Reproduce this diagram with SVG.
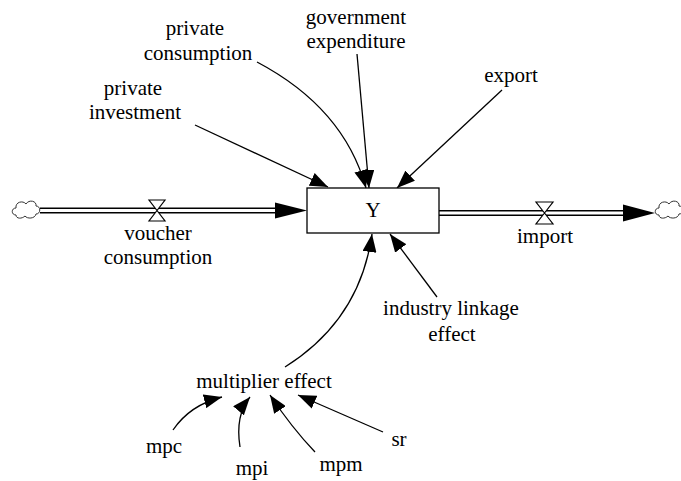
<svg xmlns="http://www.w3.org/2000/svg" width="681" height="481" viewBox="0 0 681 481">
<style>
text{font-family:"Liberation Serif","Times New Roman",serif;font-size:21px;fill:#000;text-anchor:middle}
.link{fill:none;stroke:#000;stroke-width:1.3;marker-end:url(#ah)}
.pipeo{fill:none;stroke:#000;stroke-width:6}
.pipei{fill:none;stroke:#fff;stroke-width:3}
.valve{fill:#fff;stroke:#000;stroke-width:1.2}
.head{fill:#000}
.cloud{fill:#fff;stroke:#333;stroke-width:1}
</style>
<defs>
<marker id="ah" markerWidth="18" markerHeight="14" refX="18" refY="7" orient="auto" markerUnits="userSpaceOnUse">
<path d="M0,0 L18,7 L0,14 Z" fill="#000"/>
</marker>
<path id="cloudshape" class="cloud" d="M-10,6 C-15,6 -15,-1 -10,-1 C-11,-7 -3,-9 0,-5 C3,-10 11,-8 10,-3 C15,-3 15,5 10,5 C9,10 1,10 -1,7 C-4,10 -10,10 -10,6 Z"/>
</defs>
<rect width="681" height="481" fill="#fff"/>

<g id="connectors">
<path class="link" d="M195,125 L328,187"/>
<path class="link" d="M257,62 C310,90 350,130 366,188"/>
<path class="link" d="M357,54 L369,188"/>
<path class="link" d="M502,90 L397,188"/>
<path class="link" d="M437,297 L390,234"/>
<path class="link" d="M285,367 Q360,320 372,234"/>
<path class="link" d="M173,430 Q190,405 222,397"/>
<path class="link" d="M240,447 Q235,415 250,397"/>
<path class="link" d="M315,452 Q292,428 270,395"/>
<path class="link" d="M383,432 L298,395"/>
</g>

<g id="flow-voucher">
<path class="pipeo" d="M40,210.5 H276"/>
<path class="pipei" d="M38,210.5 H276"/>
<polygon class="head" points="275,202.5 307,210.5 275,218.5"/>
<polygon class="valve" points="149,200 165,200 157,210.5 149,221 165,221 157,210.5"/>
<text x="158" y="240">voucher</text>
<text x="158" y="264">consumption</text>
</g>

<g id="flow-import">
<path class="pipeo" d="M439,213 H624"/>
<path class="pipei" d="M437,213 H624"/>
<polygon class="head" points="623,204.5 655,213 623,221.5"/>
<polygon class="valve" points="536,202 553,202 544.5,213 536,224 553,224 544.5,213"/>
<text x="545" y="243">import</text>
</g>

<g id="cloud-left"><use href="#cloudshape" x="26" y="209"/></g>
<g id="cloud-right"><use href="#cloudshape" x="669" y="209"/></g>

<g id="Y">
<rect x="307" y="188" width="132" height="45" fill="#fff" stroke="#000" stroke-width="1.3"/>
<text x="373" y="217">Y</text>
</g>

<g id="private-investment"><text x="133" y="95">private</text><text x="135" y="119">investment</text></g>
<g id="private-consumption"><text x="195" y="35">private</text><text x="198" y="60">consumption</text></g>
<g id="government-expenditure"><text x="356" y="24">government</text><text x="356" y="48">expenditure</text></g>
<g id="export"><text x="511" y="82">export</text></g>
<g id="industry-linkage-effect"><text x="451" y="315">industry linkage</text><text x="452" y="341">effect</text></g>
<g id="multiplier-effect"><text x="264" y="388">multiplier effect</text></g>
<g id="mpc"><text x="164" y="453">mpc</text></g>
<g id="mpi"><text x="252" y="475">mpi</text></g>
<g id="mpm"><text x="341" y="471">mpm</text></g>
<g id="sr"><text x="399" y="446">sr</text></g>
</svg>
